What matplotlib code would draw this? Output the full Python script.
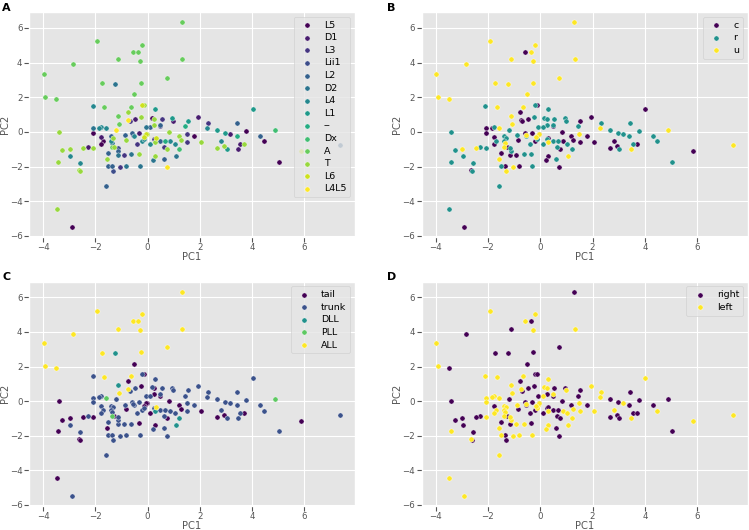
import numpy as np
import matplotlib
matplotlib.use('Agg')
import matplotlib.pyplot as plt

# PCA scores, one entry per cell
pc1 = [1.30, -1.92, -0.57, -0.37, -0.22, -1.13, -0.29, 1.33, -2.86, -3.97,
       0.73, -1.74, -1.25, -0.26, -3.91, -3.49, -0.52, -2.10, -1.66, -0.65,
       -0.22, -0.12, -0.76, 0.28, 4.02, -1.12, -0.73, -0.69, -0.47, -0.24,
       0.15, 0.25, 0.54, 0.95, 0.99, 1.53, 1.94, 2.31, 3.42, -1.10,
       0.24, 0.48, 0.49, 1.43, 2.27, -3.40, -2.07, -2.07, -1.78, -1.84,
       -1.58, -1.20, -0.07, 0.10, 0.82, 1.49, 1.77, 1.19, 2.67, 2.98,
       3.16, 3.41, 3.78, 4.31, 4.87, 4.47, -0.59, -0.31, -0.53, -0.56,
       -0.03, -0.10, -0.05, -0.88, -1.77, -1.40, -1.32, -1.40, -1.35, -1.71,
       -1.78, -0.84, -0.40, -0.20, -0.14, 0.26, 0.31, 0.30, 0.49, 0.66,
       0.85, 1.04, 1.27, 1.52, 2.06, 2.81, 2.93, 3.02, 2.66, 3.54,
       3.70, 3.46, 5.86, 7.36, 5.02, -2.29, -2.46, -2.08, -2.98, -3.28,
       -2.97, -3.42, -2.58, -2.64, -2.60, -1.57, -1.50, -1.15, -1.12, -1.28,
       -1.38, -0.92, -0.62, -0.34, 0.30, 0.21, 0.62, 1.07, 1.21, 0.73,
       -1.50, -1.35, -1.33, -1.06, -0.82, -0.30, -1.59, -3.48, -2.90, 0.11,
       0.63, 0.76, -0.15, -1.15]
pc2 = [6.32, 5.22, 4.64, 4.64, 5.04, 4.18, 4.11, 4.18, 3.90, 3.34,
       3.13, 2.81, 2.77, 2.83, 2.04, 1.91, 2.16, 1.47, 1.41, 1.45,
       1.57, 1.57, 1.17, 1.30, 1.35, 0.92, 0.68, 0.61, 0.73, 0.88,
       0.80, 0.73, 0.75, 0.78, 0.65, 0.62, 0.86, 0.54, 0.54, 0.47,
       0.41, 0.42, 0.32, 0.32, 0.22, 0.01, 0.20, -0.06, 0.29, 0.24,
       0.20, 0.12, 0.29, 0.29, 0.00, -0.10, -0.24, -0.21, 0.10, -0.04,
       -0.11, -0.22, 0.07, -0.22, 0.10, -0.55, -0.06, -0.05, -0.21, -0.18,
       -0.10, -0.20, -0.14, -0.20, -0.31, -0.26, -0.35, -0.50, -0.62, -0.53,
       -0.68, -0.47, -0.70, -0.54, -0.40, -0.41, -0.37, -0.60, -0.53, -0.53,
       -0.55, -0.70, -0.46, -0.57, -0.57, -0.52, -0.83, -0.96, -0.93, -0.70,
       -0.71, -0.96, -1.13, -0.78, -1.72, -0.86, -0.95, -0.92, -0.97, -1.07,
       -1.39, -1.72, -1.82, -2.17, -2.26, -1.55, -1.21, -1.32, -1.12, -0.86,
       -0.86, -1.33, -1.30, -1.27, -1.38, -1.64, -1.58, -1.40, -0.97, -2.04,
       -1.97, -1.97, -2.28, -2.00, -1.98, -1.98, -3.15, -4.43, -5.47, -0.69,
       -0.88, -1.01, -0.30, -0.90]

# panel A: segment
segment = ['A', 'A', 'A', 'A', 'A', 'A', 'A', 'A', 'A', 'A',
           'A', 'A', 'D2', 'A', 'A', 'A', 'A', 'L4', 'A', 'A',
           'L6', 'T', 'T', 'L1', 'L1', 'A', 'L4L5', 'L3', 'D1', 'T',
           'L5', 'T', 'L3', 'L1', 'D1', 'L1', 'D1', 'L3', 'L2', 'A',
           'T', 'L2', 'L3', '--', 'L4', 'T', 'D2', 'L5', 'L4', 'L4',
           'L4', 'L4L5', 'D2', 'L2', 'T', 'L3', 'L5', 'T', 'L1', 'L1',
           'D1', '--', 'L5', 'L2', 'Dx', 'L5', 'L2', 'D1', 'L4', 'D1',
           'T', 'T', 'L6', 'L2', 'D1', 'L2', 'T', 'L4', 'D2', 'L5',
           'L5', 'T', 'L3', 'L4', 'L4', 'L3', 'L6', 'T', 'L2', '--',
           'L4', 'L4', 'T', 'L3', 'T', 'L4', 'T', 'L1', 'T', 'D1',
           'T', 'D1', 'L6', 'L2', 'L5', 'D1', 'T', 'T', 'T', 'T',
           'L4', 'T', 'L4', 'T', 'T', 'T', 'L2', 'D2', 'L2', 'T',
           'A', 'L3', 'D2', 'T', 'T', 'D2', 'L2', 'D2', 'Dx', 'L4L5',
           'L2', 'L2', 'Lii1', 'L3', 'D2', 'D2', 'L2', 'T', 'L5', 'L4',
           'L3', 'T', 'L6', 'Lii1']
segment_order = ['L5', 'D1', 'L3', 'Lii1', 'L2', 'D2', 'L4', 'L1', '--',
                 'Dx', 'A', 'T', 'L6', 'L4L5']

# panel B: cell class
cell_class = ['u', 'u', 'c', 'u', 'u', 'u', 'u', 'u', 'u', 'u',
              'u', 'u', 'u', 'u', 'u', 'u', 'u', 'r', 'u', 'u',
              'r', 'c', 'c', 'r', 'c', 'u', 'c', 'c', 'c', 'r',
              'r', 'r', 'r', 'r', 'r', 'c', 'c', 'r', 'r', 'u',
              'r', 'r', 'c', 'r', 'u', 'r', 'c', 'c', 'r', 'c',
              'u', 'r', 'r', 'r', 'c', 'u', 'c', 'c', 'r', 'r',
              'r', 'r', 'r', 'r', 'u', 'r', 'c', 'c', 'r', 'u',
              'c', 'u', 'u', 'r', 'c', 'r', 'r', 'r', 'u', 'r',
              'c', 'c', 'r', 'c', 'r', 'r', 'c', 'u', 'r', 'r',
              'c', 'r', 'c', 'c', 'c', 'c', 'c', 'r', 'c', 'r',
              'c', 'u', 'c', 'u', 'r', 'r', 'u', 'r', 'u', 'r',
              'r', 'r', 'r', 'c', 'r', 'u', 'c', 'c', 'r', 'c',
              'u', 'c', 'r', 'r', 'c', 'c', 'r', 'u', 'r', 'c',
              'r', 'c', 'u', 'u', 'c', 'r', 'r', 'r', 'c', 'r',
              'r', 'c', 'u', 'r']
class_order = ['c', 'r', 'u']

# panel C: lateral line part
part = ['ALL', 'ALL', 'ALL', 'ALL', 'ALL', 'ALL', 'ALL', 'ALL', 'ALL', 'ALL',
        'ALL', 'ALL', 'DLL', 'ALL', 'ALL', 'ALL', 'tail', 'trunk', 'ALL', 'ALL',
        'trunk', 'tail', 'tail', 'trunk', 'trunk', 'DLL', 'ALL', 'trunk', 'trunk', 'tail',
        'trunk', 'tail', 'trunk', 'trunk', 'trunk', 'trunk', 'trunk', 'trunk', 'trunk', 'ALL',
        'tail', 'trunk', 'tail', 'trunk', 'trunk', 'tail', 'trunk', 'trunk', 'trunk', 'trunk',
        'PLL', 'trunk', 'trunk', 'trunk', 'tail', 'trunk', 'trunk', 'tail', 'trunk', 'trunk',
        'trunk', 'trunk', 'trunk', 'trunk', 'PLL', 'trunk', 'trunk', 'trunk', 'trunk', 'trunk',
        'tail', 'tail', 'tail', 'trunk', 'trunk', 'trunk', 'trunk', 'trunk', 'trunk', 'trunk',
        'trunk', 'tail', 'trunk', 'trunk', 'trunk', 'trunk', 'ALL', 'DLL', 'trunk', 'trunk',
        'trunk', 'trunk', 'tail', 'trunk', 'tail', 'trunk', 'tail', 'trunk', 'tail', 'trunk',
        'tail', 'trunk', 'tail', 'trunk', 'trunk', 'trunk', 'tail', 'tail', 'tail', 'tail',
        'trunk', 'tail', 'trunk', 'tail', 'tail', 'tail', 'trunk', 'trunk', 'trunk', 'tail',
        'PLL', 'trunk', 'trunk', 'tail', 'tail', 'trunk', 'trunk', 'DLL', 'DLL', 'trunk',
        'trunk', 'trunk', 'trunk', 'trunk', 'trunk', 'trunk', 'trunk', 'tail', 'trunk', 'tail',
        'trunk', 'tail', 'tail', 'trunk']
part_order = ['tail', 'trunk', 'DLL', 'PLL', 'ALL']

# panel D: body side
side = ['right', 'left', 'left', 'right', 'left', 'right', 'left', 'left', 'right', 'left',
        'right', 'right', 'right', 'right', 'left', 'right', 'right', 'left', 'left', 'left',
        'right', 'right', 'right', 'left', 'left', 'left', 'left', 'right', 'right', 'right',
        'left', 'left', 'right', 'right', 'left', 'right', 'left', 'left', 'right', 'left',
        'right', 'left', 'right', 'right', 'left', 'right', 'left', 'left', 'left', 'left',
        'left', 'right', 'right', 'left', 'right', 'left', 'right', 'right', 'right', 'right',
        'left', 'right', 'right', 'right', 'right', 'left', 'right', 'right', 'right', 'left',
        'right', 'left', 'left', 'left', 'right', 'left', 'left', 'left', 'left', 'left',
        'left', 'right', 'right', 'right', 'left', 'right', 'right', 'left', 'right', 'right',
        'left', 'left', 'left', 'left', 'left', 'left', 'right', 'right', 'right', 'right',
        'right', 'left', 'left', 'left', 'right', 'right', 'right', 'left', 'right', 'right',
        'right', 'left', 'right', 'left', 'right', 'left', 'right', 'right', 'left', 'right',
        'left', 'left', 'left', 'right', 'left', 'left', 'right', 'left', 'left', 'right',
        'left', 'right', 'right', 'left', 'left', 'left', 'left', 'left', 'left', 'right',
        'right', 'right', 'left', 'left']
side_order = ['right', 'left']

plt.style.use('ggplot')
plt.rcParams['font.family'] = ['DejaVu Sans']
plt.rcParams['xtick.labelsize'] = 6.2
plt.rcParams['ytick.labelsize'] = 6.2
plt.rcParams['axes.labelsize'] = 7.2

x = np.array(pc1)
y = np.array(pc2)

fig = plt.figure(figsize=(7.49, 5.3), dpi=100)
boxes = [[0.0387, 0.553, 0.435, 0.424],
         [0.563, 0.553, 0.435, 0.424],
         [0.0387, 0.0458, 0.435, 0.4227],
         [0.563, 0.0458, 0.435, 0.4227]]
panels = [(segment, segment_order, 'A'),
          (cell_class, class_order, 'B'),
          (part, part_order, 'C'),
          (side, side_order, 'D')]
letter_pos = [(0.003, 0.995), (0.517, 0.995), (0.003, 0.487), (0.517, 0.487)]

for box, (labels, order, letter), (lx, ly) in zip(boxes, panels, letter_pos):
    ax = fig.add_axes(box)
    labels = np.array(labels)
    n = len(order)
    for i, name in enumerate(order):
        mask = labels == name
        ax.scatter(x[mask], y[mask], s=14, color=plt.cm.viridis(i / (n - 1)),
                   edgecolors='white', linewidths=0.3, label=name, zorder=3)
    ax.set_xticks(range(-4, 7, 2))
    ax.set_yticks(range(-6, 7, 2))
    ax.set_xlabel('PC1', labelpad=0)
    ax.set_ylabel('PC2', labelpad=0)
    ax.tick_params(pad=1.2)
    ax.legend(loc='upper right', fontsize=6.8, labelspacing=0.38)
    fig.text(lx, ly, letter, fontsize=8, fontweight='bold', va='top', ha='left')

fig.savefig('out.png', dpi=100)
